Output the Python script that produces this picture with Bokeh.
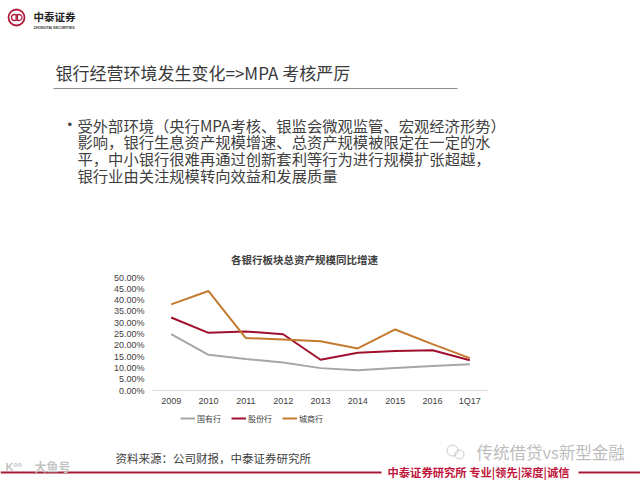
from bokeh.plotting import figure
from bokeh.models import (FactorRange, Range1d, LinearAxis, CategoricalAxis, FixedTicker,
                          NumeralTickFormatter, Label)
from bokeh.embed import file_html
from bokeh.resources import INLINE

# ---------------- data ----------------
categories = ["2009", "2010", "2011", "2012", "2013", "2014", "2015", "2016", "1Q17"]
state_banks = [0.249, 0.158, 0.139, 0.124, 0.099, 0.090, 0.100, 0.108, 0.116]      # 国有行
joint_stock = [0.323, 0.255, 0.261, 0.249, 0.136, 0.167, 0.175, 0.178, 0.134]      # 股份行
city_banks = [0.381, 0.440, 0.232, 0.226, 0.218, 0.186, 0.270, 0.205, 0.143]       # 城商行
y_ticks = [0.0, 0.05, 0.10, 0.15, 0.20, 0.25, 0.30, 0.35, 0.40, 0.45, 0.50]
series_names = ["国有行", "股份行", "城商行"]

slide_title = "银行经营环境发生变化=>MPA 考核严厉"
bullet_lines = [
    "受外部环境（央行MPA考核、银监会微观监管、宏观经济形势）",
    "影响，银行生息资产规模增速、总资产规模被限定在一定的水",
    "平，中小银行很难再通过创新套利等行为进行规模扩张超越，",
    "银行业由关注规模转向效益和发展质量",
]
chart_title = "各银行板块总资产规模同比增速"
source_note = "资料来源：公司财报，中泰证券研究所"
footer_text = "中泰证券研究所 专业|领先|深度|诚信"

# ---------------- geometry ----------------
W, H = 640, 480
X0 = 152.0                 # chart category band left edge (px)
Y0, Y1 = 390.0, 277.0      # pixel rows of value 0 and value YMAX
YMAX = 0.5
n = len(categories)
pad = X0 * n / (W - 2 * X0)
unit_x = W / (n + 2 * pad)
unit_y = (Y0 - Y1) / YMAX
y_start = -(H - Y0) / unit_y
y_end = y_start + H / unit_y

def sx(px):  # slide pixel column -> synthetic x of the factor range
    return px / unit_x - pad

CJK = "Noto Sans CJK SC"
LAT = "Liberation Sans"

p = figure(width=W, height=H, output_backend="svg", toolbar_location=None,
           x_range=FactorRange(*categories, range_padding=pad, range_padding_units="absolute"),
           y_range=Range1d(y_start, y_end),
           x_axis_location=None, y_axis_location=None,
           min_border=0, outline_line_color=None,
           background_fill_color="white", border_fill_color="white")
p.extra_y_ranges = {"py": Range1d(H, 0)}
p.grid.visible = False

# axes
xaxis = CategoricalAxis(fixed_location=0, bounds=(0, n))
xaxis.axis_line_color = "#d9d9d9"
xaxis.axis_line_width = 1
xaxis.major_tick_line_color = None
xaxis.minor_tick_line_color = None
xaxis.major_tick_out = 0
xaxis.major_tick_in = 0
xaxis.major_label_standoff = 5
xaxis.major_label_text_font = LAT
xaxis.major_label_text_font_size = "9px"
xaxis.major_label_text_color = "#404040"
p.add_layout(xaxis, "below")

yaxis = LinearAxis(fixed_location=sx(X0 - 4),
                   ticker=FixedTicker(ticks=y_ticks),
                   formatter=NumeralTickFormatter(format="0.00%"))
yaxis.axis_line_color = None
yaxis.major_tick_line_color = None
yaxis.minor_tick_line_color = None
yaxis.major_tick_out = 0
yaxis.major_tick_in = 0
yaxis.major_label_standoff = 4
yaxis.major_label_text_font = LAT
yaxis.major_label_text_font_size = "9px"
yaxis.major_label_text_color = "#404040"
p.add_layout(yaxis, "left")

# series
colors = ["#a6a6a6", "#a0102c", "#c47a2e"]
for vals, name, col in zip([state_banks, joint_stock, city_banks], series_names, colors):
    p.line(x=categories, y=vals, line_color=col, line_width=2, legend_label=name)

lg = p.legend[0]
lg.location = (180, 52)
lg.orientation = "horizontal"
lg.border_line_color = None
lg.background_fill_alpha = 0
lg.padding = 0
lg.margin = 0
lg.spacing = 10
lg.glyph_width = 15
lg.label_standoff = 2
lg.label_text_font = CJK
lg.label_text_font_size = "8px"
lg.label_text_color = "#404040"

# ---------------- text helpers ----------------
def txt(s, x, y, size, color="#333333", font=CJK, bold=False, align="left"):
    p.add_layout(Label(x=x, y=H - y, x_units="screen", y_units="screen", text=s,
                       text_font=font, text_font_size=f"{size}px", text_color=color,
                       text_font_style="bold" if bold else "normal",
                       text_align=align, text_baseline="middle"))

# header logo
RED = "#b01d3c"
p.scatter(x=[sx(16)], y=[17], size=16, marker="circle", fill_color=None, line_color=RED,
          line_width=1.8, y_range_name="py")
p.scatter(x=[sx(14), sx(18.5)], y=[17, 17], size=6, marker="circle", fill_color=None,
          line_color=RED, line_width=1.3, y_range_name="py")
txt("中泰证券", 33, 16, 10.5, color="#222222", bold=True)
txt("ZHONGTAI SECURITIES", 33, 27, 3.6, color="#333333", font=LAT, bold=True)

# slide title + rule
txt(slide_title, 55, 72, 17, color="#3a3a3a")
p.segment(x0=[sx(53)], y0=[88], x1=[sx(457)], y1=[88], line_color="#8c8c8c", line_width=1,
          y_range_name="py")

# bullet text
txt("•", 67, 124, 13, color="#404040", font=LAT)
for i, line in enumerate(bullet_lines):
    txt(line, 77, 124 + i * 16.7, 15.3, color="#404040")

# chart title
txt(chart_title, 304, 259, 10.5, color="#404040", bold=True, align="center")

# source note
txt(source_note, 115, 457, 11.5, color="#404040")

# footer
p.segment(x0=[sx(0), sx(578)], y0=[472, 472], x1=[sx(381), sx(640)], y1=[472, 472],
          line_color="#a31a35", line_width=1.8, y_range_name="py")
txt(footer_text, 387, 471.5, 11.3, color="#c0163c", bold=True)

# watermarks
p.scatter(x=[sx(452), sx(459)], y=[450, 454], size=[11, 9], marker="circle", fill_color=None,
          line_color="#c8c8c8", line_width=1, y_range_name="py")
txt("传统借贷vs新型金融", 476, 451, 16.5, color="#bdbdbd")
txt("K°°", 5, 466, 11, color="#c4c4c4", font=LAT, bold=True)
txt("大鱼号", 34, 466, 12, color="#c4c4c4", bold=True)

open("out.html", "w").write(file_html(p, INLINE))
